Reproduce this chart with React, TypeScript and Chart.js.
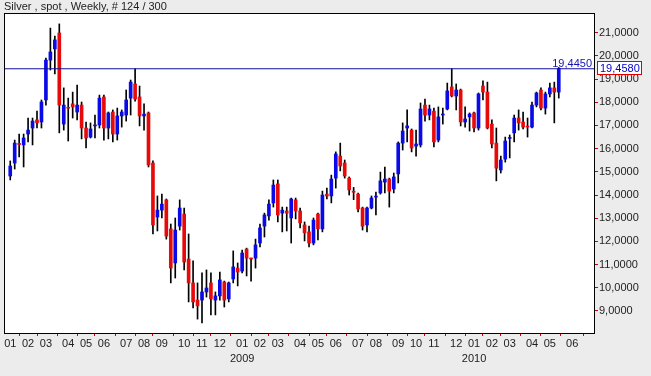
import React, { useEffect, useRef } from 'react';
import { Chart, registerables } from 'chart.js';

Chart.register(...registerables);

const TITLE = 'Silver , spot , Weekly, # 124 / 300';

// weekly OHLC, week 0 = first week of Jan 2008
const opens = [
  14.82, 15.38, 16.22, 16.16, 16.63, 16.89, 17.24, 17.15, 18.10, 19.82,
  20.30, 20.99, 17.06, 17.75, 17.93, 17.58, 17.88, 16.89, 16.50, 16.98,
  17.02, 18.23, 16.89, 17.58, 16.63, 17.41, 17.45, 18.18, 18.79, 18.23,
  17.41, 17.54, 15.38, 13.05, 13.35, 13.79, 12.54, 11.07, 12.66, 13.18,
  11.24, 10.21, 9.47, 9.47, 9.82, 10.21, 9.47, 9.65, 10.25, 9.52,
  10.38, 10.85, 10.72, 11.67, 11.25, 11.28, 11.93, 12.66, 13.10, 13.66,
  14.48, 13.22, 13.31, 13.01, 13.79, 13.31, 12.71, 12.41, 11.93, 13.18,
  12.54, 14.04, 13.96, 14.73, 15.68, 15.38, 14.73, 14.14, 14.04, 13.44,
  12.71, 13.44, 13.91, 14.09, 14.56, 14.69, 14.26, 14.91, 16.24, 16.89,
  16.80, 16.11, 16.16, 17.88, 17.45, 17.62, 16.37, 17.45, 17.71, 18.66,
  18.27, 18.53, 17.15, 17.37, 17.54, 16.89, 18.70, 18.44, 17.06, 16.24,
  15.08, 15.55, 16.44, 16.68, 17.32, 17.15, 16.94, 16.93, 17.88, 18.53,
  17.75, 18.36, 18.62, 18.44,
];
const highs = [
  15.47, 16.37, 16.63, 16.63, 17.32, 17.32, 17.62, 18.10, 19.91, 21.20,
  20.86, 21.38, 18.62, 18.18, 18.44, 18.74, 18.01, 17.15, 17.11, 17.45,
  18.31, 18.31, 17.58, 17.67, 17.75, 17.67, 18.53, 18.96, 19.445, 18.70,
  17.93, 17.58, 15.47, 13.96, 14.04, 13.83, 12.75, 13.01, 13.79, 13.44,
  12.32, 11.16, 10.21, 10.64, 10.77, 10.64, 9.82, 10.68, 10.29, 10.25,
  11.59, 11.07, 11.63, 11.71, 11.28, 12.10, 12.75, 13.22, 13.79, 14.65,
  14.65, 13.48, 13.48, 13.87, 13.87, 13.44, 12.84, 12.66, 13.01, 13.22,
  14.17, 14.30, 14.86, 15.86, 16.24, 15.51, 14.78, 14.33, 14.08, 13.48,
  13.48, 13.96, 14.13, 14.99, 15.21, 14.73, 14.95, 16.29, 17.11, 17.67,
  16.85, 16.80, 17.97, 18.14, 17.88, 17.75, 17.80, 17.75, 18.83, 19.445,
  18.79, 18.57, 17.80, 17.54, 17.58, 18.40, 18.92, 18.87, 17.24, 16.89,
  15.68, 16.50, 16.59, 17.45, 17.67, 17.58, 17.32, 18.01, 18.44, 18.62,
  18.44, 18.83, 18.87, 19.50,
];
const lows = [
  14.65, 15.12, 15.64, 15.21, 16.29, 16.16, 16.89, 16.89, 17.88, 19.39,
  19.22, 16.68, 16.80, 16.33, 17.32, 17.24, 16.42, 16.03, 16.46, 16.46,
  16.89, 16.37, 16.42, 16.29, 16.37, 16.93, 17.19, 17.45, 18.05, 16.98,
  16.80, 15.21, 12.32, 12.45, 13.01, 12.10, 10.21, 10.42, 12.49, 10.77,
  9.39, 9.13, 8.65, 8.48, 9.60, 8.83, 8.83, 9.47, 9.17, 9.39,
  10.21, 10.08, 10.64, 10.51, 10.29, 10.85, 11.76, 12.19, 12.92, 13.48,
  12.84, 12.41, 12.45, 11.93, 12.97, 12.58, 12.02, 11.76, 11.85, 12.06,
  12.41, 13.83, 13.66, 14.30, 15.04, 14.73, 14.00, 13.80, 13.27, 12.49,
  12.41, 13.40, 13.14, 14.04, 14.09, 13.48, 14.09, 14.52, 15.94, 16.29,
  15.86, 15.68, 16.07, 17.19, 17.24, 16.07, 16.29, 17.06, 17.67, 18.23,
  17.67, 16.98, 16.93, 16.76, 16.72, 16.80, 18.10, 16.85, 16.03, 14.61,
  14.95, 15.42, 15.60, 16.29, 16.80, 16.85, 16.50, 16.89, 17.80, 17.67,
  17.49, 18.23, 17.11, 18.18,
];
const closes = [
  15.25, 16.24, 16.18, 16.46, 16.80, 17.19, 17.11, 18.01, 19.82, 20.17,
  20.69, 17.88, 17.88, 17.74, 17.80, 17.88, 16.89, 16.46, 16.85, 16.99,
  18.18, 16.89, 17.54, 16.63, 17.41, 17.58, 18.10, 18.87, 18.14, 17.41,
  17.49, 15.30, 12.71, 13.35, 13.61, 12.23, 10.85, 12.49, 13.44, 11.11,
  10.21, 9.39, 9.22, 9.82, 9.99, 9.52, 9.65, 10.34, 9.47, 10.21,
  10.90, 10.68, 11.50, 11.28, 11.24, 11.85, 12.58, 13.14, 13.61, 14.43,
  13.14, 13.35, 13.22, 13.83, 13.31, 12.80, 12.37, 11.93, 12.92, 12.54,
  14.00, 13.96, 14.69, 15.77, 15.25, 14.82, 14.22, 14.12, 13.40, 12.66,
  13.44, 13.87, 13.92, 14.61, 14.69, 14.17, 14.78, 16.24, 16.76, 16.98,
  16.03, 16.20, 17.71, 17.45, 17.71, 16.29, 17.37, 17.46, 18.49, 18.27,
  18.53, 17.15, 17.28, 17.49, 16.89, 18.36, 18.44, 16.89, 16.20, 15.16,
  15.51, 16.33, 16.47, 17.32, 17.11, 16.93, 16.93, 17.88, 18.40, 17.75,
  18.36, 18.62, 18.44, 19.458,
];

// x axis: week index of the first bar of every month
const monthStartWeeks = [0, 4, 8, 13, 17, 21, 26, 30, 34, 39, 43, 47, 52, 56, 60, 65, 69, 73, 78, 82, 87, 91, 95, 100, 104, 108, 112, 117, 121, 126];
const monthLabels = ['01', '02', '03', '04', '05', '06', '07', '08', '09', '10', '11', '12', '01', '02', '03', '04', '05', '06', '07', '08', '09', '10', '11', '12', '01', '02', '03', '04', '05', '06'];
const yearLabels = ['', '', '', '', '', '', '', '', '', '', '', '', '2009', '', '', '', '', '', '', '', '', '', '', '', '2010', '', '', '', '', ''];
const yTicks = [9, 10, 11, 12, 13, 14, 15, 16, 17, 18, 19, 20, 21];

const levelValue = 19.445;
const lastValue = 19.458;

const X_MIN = -1.4;
const X_MAX = 130.9;
const Y_MIN = 8.05;
const Y_MAX = 21.85;

const UP = '#0a0ae6';
const DOWN = '#e60a0a';
const FONT = '"Liberation Sans", Arial, sans-serif';
const fmt = (v: number) => v.toFixed(4).replace('.', ',');

const framePlugin = {
  id: 'frame',
  beforeDraw(chart: any) {
    const { ctx, chartArea: a, width, height } = chart;
    ctx.save();
    ctx.fillStyle = '#ececec';
    ctx.fillRect(0, 0, width, height);
    ctx.fillStyle = '#ffffff';
    ctx.fillRect(a.left, a.top, a.right - a.left, a.bottom - a.top);
    ctx.restore();
  },
  afterDraw(chart: any) {
    const { ctx, chartArea: a } = chart;
    const ys = chart.scales.y;
    ctx.save();
    ctx.strokeStyle = '#000';
    ctx.lineWidth = 1;
    ctx.strokeRect(a.left + 0.5, a.top + 0.5, a.right - a.left, a.bottom - a.top);
    // level label
    const ly = ys.getPixelForValue(levelValue);
    ctx.font = '11px ' + FONT;
    ctx.fillStyle = '#1414b4';
    ctx.textAlign = 'right';
    ctx.textBaseline = 'alphabetic';
    ctx.fillText(fmt(levelValue), a.right - 2, ly - 2);
    // last value box
    const py = Math.round(ys.getPixelForValue(lastValue));
    ctx.fillStyle = '#ffffff';
    ctx.fillRect(a.right + 4, py - 6, 43, 12);
    ctx.strokeStyle = '#e00000';
    ctx.strokeRect(a.right + 3.5, py - 6.5, 44, 13);
    ctx.fillStyle = '#0000d0';
    ctx.textAlign = 'left';
    ctx.textBaseline = 'middle';
    ctx.fillText(fmt(lastValue), a.right + 6, py + 1);
    ctx.restore();
  },
};

export default function App() {
  const ref = useRef<HTMLCanvasElement | null>(null);
  useEffect(() => {
    if (!ref.current) return;
    Chart.defaults.font.family = FONT;
    const idx = opens.map((_, i) => i);
    const chart = new Chart(ref.current, {
      type: 'bar',
      data: {
        datasets: [
          {
            type: 'line',
            data: [
              { x: X_MIN, y: levelValue },
              { x: X_MAX, y: levelValue },
            ],
            borderColor: '#10109c',
            borderWidth: 1,
            pointRadius: 0,
            order: -1,
          } as any,
          {
            data: idx.map((i) => ({ x: i, y: [opens[i], closes[i]] })),
            backgroundColor: idx.map((i) => (closes[i] >= opens[i] ? UP : DOWN)),
            barThickness: 3,
            minBarLength: 1,
            grouped: false,
            order: 0,
          } as any,
          {
            data: idx.map((i) => ({ x: i, y: [lows[i], highs[i]] })),
            backgroundColor: '#000000',
            barThickness: 1,
            grouped: false,
            order: 1,
          } as any,
        ],
      },
      options: {
        responsive: false,
        animation: false,
        layout: { padding: { left: 4, top: 0, right: 0, bottom: 0 } },
        plugins: {
          legend: { display: false },
          tooltip: { enabled: false },
          title: {
            display: true,
            text: TITLE,
            align: 'start',
            color: '#222',
            font: { size: 11, weight: 'normal', lineHeight: 13 / 11 },
            padding: { top: 0, bottom: 0 },
          },
        },
        scales: {
          x: {
            type: 'linear',
            min: X_MIN,
            max: X_MAX,
            offset: false,
            afterBuildTicks: (s: any) => {
              s.ticks = monthStartWeeks.map((v) => ({ value: v }));
            },
            afterFit: (s: any) => {
              s.height = 43;
            },
            grid: { drawOnChartArea: false, drawTicks: true, tickLength: 3, color: '#d00000', tickColor: '#d00000' },
            border: { display: true, color: '#000', width: 1 },
            ticks: {
              autoSkip: false,
              maxRotation: 0,
              padding: 0,
              color: '#222',
              font: { size: 11, lineHeight: 15 / 11 },
              callback: (_v: any, i: number) => (yearLabels[i] ? [monthLabels[i], yearLabels[i]] : monthLabels[i]),
            },
          },
          y: {
            position: 'right',
            min: Y_MIN,
            max: Y_MAX,
            afterBuildTicks: (s: any) => {
              s.ticks = yTicks.map((v) => ({ value: v }));
            },
            afterFit: (s: any) => {
              s.width = 57;
            },
            grid: { drawOnChartArea: false, drawTicks: true, tickLength: 4, color: '#d00000', tickColor: '#d00000' },
            border: { display: true, color: '#000', width: 1 },
            ticks: {
              padding: 1,
              color: '#222',
              font: { size: 11 },
              callback: (v: any) => fmt(Number(v)),
            },
          },
        },
      } as any,
      plugins: [framePlugin],
    });
    return () => chart.destroy();
  }, []);
  return (
    <div style={{ position: 'fixed', left: 0, top: 0, width: 651, height: 376 }}>
      <canvas ref={ref} width={651} height={376} style={{ width: 651, height: 376, display: 'block' }} />
    </div>
  );
}
